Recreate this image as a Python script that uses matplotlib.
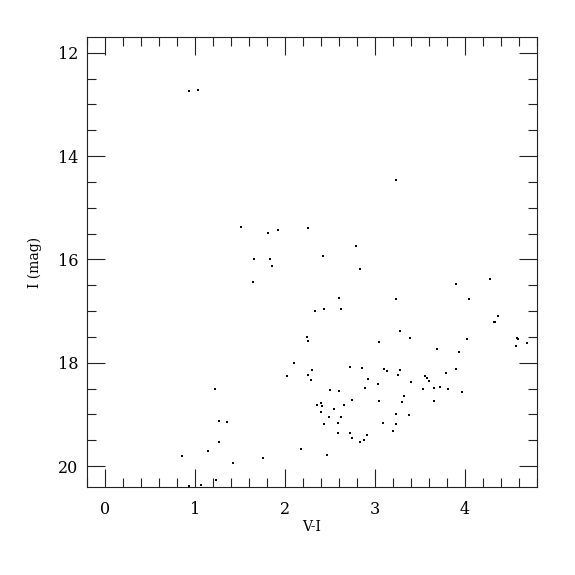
import matplotlib
matplotlib.use("Agg")
import matplotlib.pyplot as plt
from matplotlib.ticker import MultipleLocator

# colour V-I and I magnitude
v_i = [0.93, 1.03, 3.23, 1.51, 1.81, 1.92, 2.25, 2.79, 1.66, 1.83,
       1.85, 2.42, 2.83, 1.64, 3.90, 4.28, 4.05, 3.23, 2.60, 2.33,
       2.43, 2.62, 4.37, 4.33, 4.34, 3.28, 3.39, 4.03, 3.05, 2.24,
       2.25, 4.58, 4.59, 4.57, 4.69, 3.69, 3.93, 2.10, 2.02, 2.26,
       2.30, 2.29, 2.72, 2.86, 3.10, 3.14, 3.28, 3.26, 2.92, 2.89,
       3.03, 3.40, 3.56, 3.58, 3.60, 3.54, 3.66, 3.72, 3.79, 3.90,
       3.81, 3.97, 3.66, 1.22, 2.50, 2.60, 2.74, 3.04, 3.32, 3.30,
       2.36, 2.40, 2.41, 2.40, 2.66, 2.54, 2.49, 2.62, 2.43, 2.59,
       3.24, 3.38, 3.09, 3.24, 3.20, 2.59, 2.72, 2.74, 2.83, 2.88,
       2.91, 1.26, 1.35, 1.27, 1.14, 0.85, 1.42, 1.76, 2.18, 2.47,
       1.23, 0.93, 1.07]
i_mag = [12.74, 12.72, 14.47, 15.38, 15.49, 15.43, 15.40, 15.74, 15.99, 15.99,
         16.13, 15.94, 16.19, 16.43, 16.47, 16.37, 16.76, 16.76, 16.74, 16.99,
         16.96, 16.96, 17.10, 17.22, 17.21, 17.39, 17.53, 17.55, 17.59, 17.51,
         17.57, 17.53, 17.54, 17.68, 17.62, 17.74, 17.79, 18.01, 18.26, 18.23,
         18.15, 18.33, 18.08, 18.10, 18.12, 18.17, 18.14, 18.24, 18.32, 18.48,
         18.42, 18.38, 18.25, 18.29, 18.36, 18.50, 18.48, 18.47, 18.19, 18.12,
         18.51, 18.57, 18.75, 18.51, 18.53, 18.55, 18.73, 18.74, 18.65, 18.76,
         18.82, 18.78, 18.83, 18.96, 18.81, 18.90, 19.06, 19.06, 19.19, 19.17,
         18.99, 19.02, 19.17, 19.19, 19.32, 19.36, 19.37, 19.46, 19.53, 19.49,
         19.39, 19.12, 19.14, 19.53, 19.70, 19.81, 19.95, 19.84, 19.67, 19.78,
         20.27, 20.39, 20.37]

plt.rcParams["font.family"] = ["DejaVu Serif"]

fig = plt.figure(figsize=(5.75, 5.75), dpi=100)
ax = fig.add_axes([0.1518, 0.1536, 0.7816, 0.7815])

ax.plot(v_i, i_mag, linestyle="none", marker="s", markersize=1.6,
        markeredgewidth=0, color="black")

ax.set_xlim(-0.2, 4.8)
ax.set_ylim(20.4, 11.7)

ax.xaxis.set_major_locator(MultipleLocator(1))
ax.xaxis.set_minor_locator(MultipleLocator(0.2))
ax.yaxis.set_major_locator(MultipleLocator(2))
ax.yaxis.set_minor_locator(MultipleLocator(0.5))

ax.tick_params(which="both", direction="in", top=True, right=True,
               width=0.8, color="#222222", labelsize=11.5)
ax.tick_params(which="major", length=13)
ax.tick_params(which="minor", length=6.5)
ax.tick_params(axis="x", which="major", pad=10)
ax.tick_params(axis="y", which="major", pad=6.5)

for s in ax.spines.values():
    s.set_linewidth(0.8)
    s.set_color("#222222")

ax.set_xlabel("V-I", fontsize=10)
ax.set_ylabel("I (mag)", fontsize=10)
ax.xaxis.set_label_coords(0.5, -0.074)
ax.yaxis.set_label_coords(-0.1015, 0.5)

fig.savefig("out.png", dpi=100)
